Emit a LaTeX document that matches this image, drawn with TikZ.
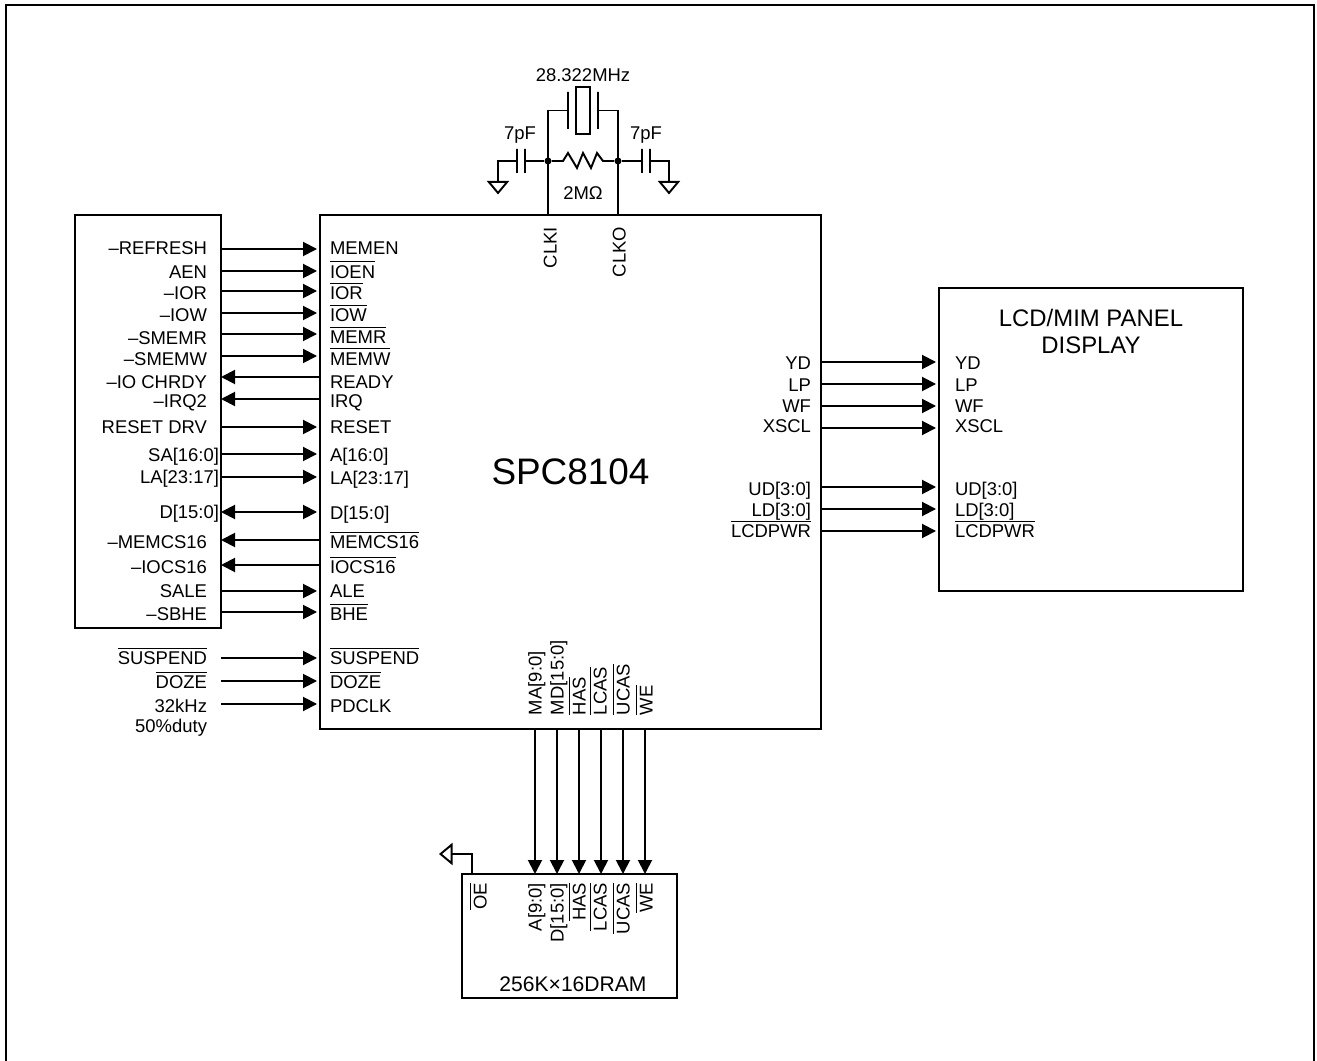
\documentclass[tikz,border=0pt]{standalone}
\usepackage{fontspec}
\setmainfont{Liberation Sans}
\usetikzlibrary{arrows.meta}
\newcommand{\ovl}[1]{$\overline{\mbox{\rule{0pt}{8.1pt}#1}}$}
\tikzset{
  chip/.style={draw, line width=1.2pt, inner sep=0pt, outer sep=0pt},
  sig/.style={font=\fontsize{10.5}{12}\selectfont, inner sep=0pt, outer sep=0pt, text height=7.5pt, text depth=0pt},
  sigr/.style={sig, anchor=east}, sigl/.style={sig, anchor=west},
  sigup/.style={sig, rotate=90, anchor=west}, sigdn/.style={sig, rotate=90, anchor=east},
  flow/.style={-{Triangle[length=.28cm, width=.28cm]}, line width=1.1pt, shorten >=1.7pt},
  flowl/.style={flow, shorten >=0pt},
  flowb/.style={{Triangle[length=.28cm, width=.28cm]}-{Triangle[length=.28cm, width=.28cm]}, line width=1.1pt, shorten >=1.7pt},
  wire/.style={line width=1.1pt},
  gnd/.style={wire, -{Triangle[open, length=.27cm, width=.44cm]}},
  plate/.style={draw, line width=1.1pt, inner sep=0pt, outer sep=0pt, minimum width=0pt},
  dot/.style={circle, fill, inner sep=0pt, minimum size=.14cm},
}

\begin{document}
\begin{tikzpicture}
    \useasboundingbox (0,0) rectangle (26.34,-21.22);
    % sheet border, open at the bottom
    \coordinate (fbl) at (0.12,-21.22);
    \coordinate (ftl) at (0.12,-0.10);
    \coordinate (ftr) at (26.28,-0.10);
    \coordinate (fbr) at (26.28,-21.22);
    \draw[line width=1.3pt] (fbl) -- (ftl) -- (ftr) -- (fbr);

    \node[chip, minimum width=2.92cm, minimum height=8.26cm] (isa) at (2.96,-8.43) {};
    \node[chip, minimum width=10.02cm, minimum height=10.28cm, font=\fontsize{21}{24}\selectfont] (spc) at (11.41,-9.44) {SPC8104};
    \node[chip, minimum width=6.08cm, minimum height=6.06cm] (lcd) at (21.82,-8.79) {};
    \node[chip, minimum width=4.30cm, minimum height=2.48cm] (dram) at (11.39,-18.72) {};
    \node[font=\fontsize{13.6}{15}\selectfont, align=center, inner sep=0pt] (lcdname) at (21.82,-6.63) {LCD/MIM PANEL\\[.2pt]DISPLAY};
    \node[font=\fontsize{12}{14}\selectfont, inner sep=0pt] (dramname) at (11.46,-19.68) {256K×16DRAM};

    % bus side
    \node[sigr] (lrefresh) at (4.14,-4.95) {--REFRESH};
    \node[sigr] (laen) at (4.14,-5.43) {AEN};
    \node[sigr] (lior) at (4.14,-5.85) {--IOR};
    \node[sigr] (liow) at (4.14,-6.30) {--IOW};
    \node[sigr] (lsmemr) at (4.14,-6.75) {--SMEMR};
    \node[sigr] (lsmemw) at (4.14,-7.18) {--SMEMW};
    \node[sigr] (lchrdy) at (4.14,-7.63) {--IO CHRDY};
    \node[sigr] (lirq) at (4.14,-8.02) {--IRQ2};
    \node[sigr] (lrst) at (4.14,-8.54) {RESET DRV};
    \node[sigr] (lsa) at (4.38,-9.10) {SA[16:0]};
    \node[sigr] (lla) at (4.38,-9.54) {LA[23:17]};
    \node[sigr] (ld) at (4.38,-10.24) {D[15:0]};
    \node[sigr] (lmemcs) at (4.14,-10.83) {--MEMCS16};
    \node[sigr] (liocs) at (4.14,-11.33) {--IOCS16};
    \node[sigr] (lsale) at (4.14,-11.82) {SALE};
    \node[sigr] (lsbhe) at (4.14,-12.28) {--SBHE};
    \node[sigr] (lsusp) at (4.14,-13.16) {\ovl{SUSPEND}};
    \node[sigr] (ldoze) at (4.14,-13.64) {\ovl{DOZE}};
    \node[sigr] (lclk) at (4.14,-14.12) {32kHz};
    \node[sigr] (lduty) at (4.14,-14.52) {50\%duty};

    \node[sigl] (memen) at (6.60,-4.95) {MEMEN};
    \node[sigl] (ioen) at (6.60,-5.43) {\ovl{IOEN}};
    \node[sigl] (ior) at (6.60,-5.86) {\ovl{IOR}};
    \node[sigl] (iow) at (6.60,-6.30) {\ovl{IOW}};
    \node[sigl] (memr) at (6.60,-6.74) {\ovl{MEMR}};
    \node[sigl] (memw) at (6.60,-7.17) {\ovl{MEMW}};
    \node[sigl] (ready) at (6.60,-7.63) {READY};
    \node[sigl] (irq) at (6.60,-8.02) {IRQ};
    \node[sigl] (reset) at (6.60,-8.54) {RESET};
    \node[sigl] (addr) at (6.60,-9.10) {A[16:0]};
    \node[sigl] (la) at (6.60,-9.56) {LA[23:17]};
    \node[sigl] (data) at (6.60,-10.26) {D[15:0]};
    \node[sigl] (memcs) at (6.60,-10.84) {\ovl{MEMCS16}};
    \node[sigl] (iocs) at (6.60,-11.34) {\ovl{IOCS16}};
    \node[sigl] (ale) at (6.60,-11.82) {ALE};
    \node[sigl] (bhe) at (6.60,-12.28) {\ovl{BHE}};
    \node[sigl] (susp) at (6.60,-13.16) {\ovl{SUSPEND}};
    \node[sigl] (doze) at (6.60,-13.64) {\ovl{DOZE}};
    \node[sigl] (pdclk) at (6.60,-14.12) {PDCLK};

    \draw[flow] (isa.east |- 0,-4.98) -- (spc.west |- 0,-4.98);
    \draw[flow] (isa.east |- 0,-5.42) -- (spc.west |- 0,-5.42);
    \draw[flow] (isa.east |- 0,-5.82) -- (spc.west |- 0,-5.82);
    \draw[flow] (isa.east |- 0,-6.26) -- (spc.west |- 0,-6.26);
    \draw[flow] (isa.east |- 0,-6.68) -- (spc.west |- 0,-6.68);
    \draw[flow] (isa.east |- 0,-7.12) -- (spc.west |- 0,-7.12);
    \draw[flowl] (spc.west |- 0,-7.54) -- (isa.east |- 0,-7.54);
    \draw[flowl] (spc.west |- 0,-7.98) -- (isa.east |- 0,-7.98);
    \draw[flow] (isa.east |- 0,-8.54) -- (spc.west |- 0,-8.54);
    \draw[flow] (isa.east |- 0,-9.08) -- (spc.west |- 0,-9.08);
    \draw[flow] (isa.east |- 0,-9.54) -- (spc.west |- 0,-9.54);
    \draw[flowb] (isa.east |- 0,-10.24) -- (spc.west |- 0,-10.24);
    \draw[flowl] (spc.west |- 0,-10.80) -- (isa.east |- 0,-10.80);
    \draw[flowl] (spc.west |- 0,-11.30) -- (isa.east |- 0,-11.30);
    \draw[flow] (isa.east |- 0,-11.82) -- (spc.west |- 0,-11.82);
    \draw[flow] (isa.east |- 0,-12.24) -- (spc.west |- 0,-12.24);
    \draw[flow] (isa.east |- 0,-13.16) -- (spc.west |- 0,-13.16);
    \draw[flow] (isa.east |- 0,-13.62) -- (spc.west |- 0,-13.62);
    \draw[flow] (isa.east |- 0,-14.08) -- (spc.west |- 0,-14.08);

    % panel side
    \node[sigr] (yd) at (16.22,-7.26) {YD};
    \node[sigr] (lp) at (16.22,-7.70) {LP};
    \node[sigr] (wf) at (16.22,-8.12) {WF};
    \node[sigr] (xscl) at (16.22,-8.52) {XSCL};
    \node[sigr] (ud) at (16.22,-9.78) {UD[3:0]};
    \node[sigr] (lowd) at (16.22,-10.20) {LD[3:0]};
    \node[sigr] (lcdpwr) at (16.22,-10.62) {\ovl{LCDPWR}};
    \node[sigl] (pyd) at (19.10,-7.26) {YD};
    \node[sigl] (plp) at (19.10,-7.70) {LP};
    \node[sigl] (pwf) at (19.10,-8.12) {WF};
    \node[sigl] (pxscl) at (19.10,-8.52) {XSCL};
    \node[sigl] (pud) at (19.10,-9.78) {UD[3:0]};
    \node[sigl] (pld) at (19.10,-10.20) {LD[3:0]};
    \node[sigl] (ppwr) at (19.10,-10.62) {\ovl{LCDPWR}};
    \draw[flow] (spc.east |- 0,-7.24) -- (lcd.west |- 0,-7.24);
    \draw[flow] (spc.east |- 0,-7.68) -- (lcd.west |- 0,-7.68);
    \draw[flow] (spc.east |- 0,-8.12) -- (lcd.west |- 0,-8.12);
    \draw[flow] (spc.east |- 0,-8.56) -- (lcd.west |- 0,-8.56);
    \draw[flow] (spc.east |- 0,-9.74) -- (lcd.west |- 0,-9.74);
    \draw[flow] (spc.east |- 0,-10.18) -- (lcd.west |- 0,-10.18);
    \draw[flow] (spc.east |- 0,-10.62) -- (lcd.west |- 0,-10.62);

    % memory side
    \node[sigup] (ma) at (10.70,-14.30) {MA[9:0]};
    \node[sigup] (md) at (11.14,-14.30) {MD[15:0]};
    \node[sigup] (has) at (11.58,-14.30) {\ovl{HAS}};
    \node[sigup] (lcas) at (12.00,-14.30) {\ovl{LCAS}};
    \node[sigup] (ucas) at (12.46,-14.30) {\ovl{UCAS}};
    \node[sigup] (we) at (12.92,-14.30) {\ovl{WE}};
    \node[sigdn] (oe) at (9.60,-17.66) {\ovl{OE}};
    \node[sigdn] (da) at (10.70,-17.66) {A[9:0]};
    \node[sigdn] (dd) at (11.14,-17.66) {D[15:0]};
    \node[sigdn] (dhas) at (11.58,-17.66) {\ovl{HAS}};
    \node[sigdn] (dlcas) at (12.00,-17.66) {\ovl{LCAS}};
    \node[sigdn] (ducas) at (12.46,-17.66) {\ovl{UCAS}};
    \node[sigdn] (dwe) at (12.92,-17.66) {\ovl{WE}};
    \draw[flowl] (10.70,0 |- spc.south) -- (10.70,0 |- dram.north);
    \draw[flowl] (11.14,0 |- spc.south) -- (11.14,0 |- dram.north);
    \draw[flowl] (11.58,0 |- spc.south) -- (11.58,0 |- dram.north);
    \draw[flowl] (12.02,0 |- spc.south) -- (12.02,0 |- dram.north);
    \draw[flowl] (12.46,0 |- spc.south) -- (12.46,0 |- dram.north);
    \draw[flowl] (12.90,0 |- spc.south) -- (12.90,0 |- dram.north);
    \coordinate (oegnd) at (8.78,-17.08);
    \draw[gnd] (9.44,0 |- dram.north) |- (oegnd);

    % oscillator
    \node[dot] (ni) at (10.96,-3.22) {};
    \node[dot] (no) at (12.36,-3.22) {};
    \node[draw, line width=1.1pt, inner sep=0pt, minimum width=.28cm, minimum height=.94cm] (xtal) at (11.66,-2.21) {};
    \node[plate, minimum height=.74cm] (xa) at (11.36,-2.21) {};
    \node[plate, minimum height=.74cm] (xb) at (11.96,-2.21) {};
    \node[plate, minimum height=.48cm] (cia) at (10.34,-3.22) {};
    \node[plate, minimum height=.48cm] (cib) at (10.50,-3.22) {};
    \node[plate, minimum height=.48cm] (coa) at (12.84,-3.22) {};
    \node[plate, minimum height=.48cm] (cob) at (13.00,-3.22) {};
    \coordinate (gi) at (9.96,-3.89);
    \coordinate (go) at (13.38,-3.89);
    \draw[wire] (spc.north -| ni) -- (ni.center) |- (xa);
    \draw[wire] (spc.north -| no) -- (no.center) |- (xb);
    \draw[wire] (ni) -- (11.26,-3.22) -- (11.36,-3.06) -- (11.54,-3.36) -- (11.66,-3.06) -- (11.82,-3.36) -- (11.94,-3.06) -- (12.06,-3.22) -- (no);
    \draw[wire] (ni) -- (cib);
    \draw[wire] (no) -- (coa);
    \draw[gnd] (cia.center) -| (gi);
    \draw[gnd] (cob.center) -| (go);
    \node[font=\fontsize{10.5}{12}\selectfont, inner sep=0pt] (xfreq) at (11.66,-1.50) {28.322MHz};
    \node[font=\fontsize{10.5}{12}\selectfont, inner sep=0pt] (cival) at (10.40,-2.70) {7pF};
    \node[font=\fontsize{10.5}{12}\selectfont, inner sep=0pt] (coval) at (12.92,-2.70) {7pF};
    \node[font=\fontsize{10.5}{12}\selectfont, inner sep=0pt] (rval) at (11.66,-3.87) {2MΩ};
    \node[sigdn] (clki) at (11.00,-4.54) {CLKI};
    \node[sigdn] (clko) at (12.38,-4.54) {CLKO};
\end{tikzpicture}
\end{document}
